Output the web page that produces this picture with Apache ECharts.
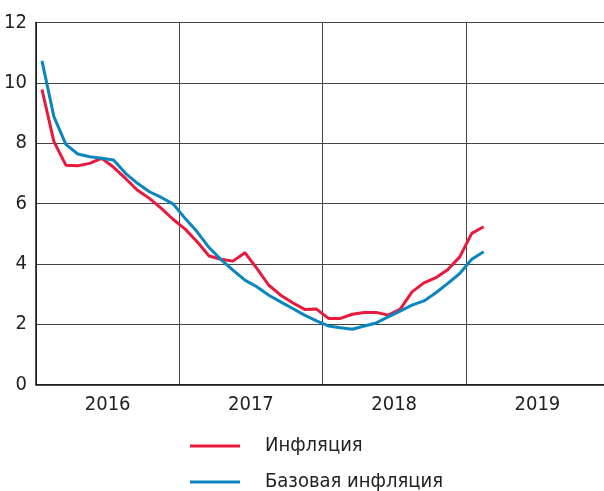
<!DOCTYPE html>
<html><head><meta charset="utf-8">
<script src="https://cdn.jsdelivr.net/npm/echarts@6/dist/echarts.min.js"></script>
<style>html,body{margin:0;padding:0;background:#fff;overflow:hidden}#c{width:609px;height:491px}</style>
</head><body><div id="c"></div>
<script>
var years = ['2016','2017','2018','2019'];
var months = [];
for (var y = 0; y < 4; y++) for (var m = 1; m <= 12; m++) months.push(years[y] + '-' + m);
var inflation = [9.78,8.05,7.27,7.25,7.33,7.50,7.20,6.83,6.44,6.17,5.84,5.47,
                 5.15,4.73,4.26,4.15,4.09,4.37,3.85,3.29,2.96,2.71,2.49,2.50,
                 2.19,2.19,2.33,2.39,2.39,2.30,2.49,3.07,3.37,3.54,3.81,4.23,
                 5.01,5.23];
var coreInflation = [10.73,8.88,7.96,7.64,7.55,7.50,7.44,7.00,6.67,6.39,6.20,5.98,
                     5.50,5.06,4.54,4.14,3.79,3.46,3.24,2.96,2.74,2.52,2.30,2.11,
                     1.94,1.88,1.83,1.94,2.04,2.24,2.43,2.63,2.77,3.04,3.35,3.68,
                     4.15,4.40];
var seriesNames = ['Инфляция','Базовая инфляция'];
var FONT = "'DejaVu Sans Condensed','Liberation Sans Narrow',sans-serif";
var legendText = {fontFamily:FONT, fontSize:20, color:'#222', lineHeight:21, padding:[0,0,0,20]};
var chart = echarts.init(document.getElementById('c'), null, {renderer:'canvas'});
chart.setOption({
  animation:false,
  grid:{left:36, right:0, top:22.5, bottom:106.5, containLabel:false},
  legend:[
    {left:185, top:430.5, itemWidth:50, itemHeight:3, icon:'rect', textStyle:legendText, data:[seriesNames[0]]},
    {left:185, top:466.5, itemWidth:50, itemHeight:3, icon:'rect', textStyle:legendText, data:[seriesNames[1]]}
  ],
  xAxis:[
    {type:'category', data:months, boundaryGap:true, show:false},
    {type:'category', data:years, boundaryGap:true, position:'bottom',
     axisLine:{show:true, lineStyle:{color:'#111', width:1.5}},
     axisTick:{show:false},
     axisLabel:{fontFamily:FONT, fontSize:20, color:'#222', margin:10},
     splitLine:{show:true, lineStyle:{color:'#444', width:1}}}
  ],
  yAxis:{type:'value', min:0, max:12, interval:2,
    axisLine:{show:true, lineStyle:{color:'#111', width:1.5}},
    axisTick:{show:false},
    axisLabel:{fontFamily:FONT, fontSize:20, color:'#222', margin:9},
    splitLine:{show:true, lineStyle:{color:'#444', width:1}}},
  series:[
    {name:seriesNames[0], type:'line', data:inflation, xAxisIndex:0, showSymbol:false, symbol:'none',
     lineStyle:{color:'#e8193c', width:3}, itemStyle:{color:'#e8193c'}},
    {name:seriesNames[1], type:'line', data:coreInflation, xAxisIndex:0, showSymbol:false, symbol:'none',
     lineStyle:{color:'#0a86be', width:3}, itemStyle:{color:'#0a86be'}}
  ]
});
</script></body></html>
